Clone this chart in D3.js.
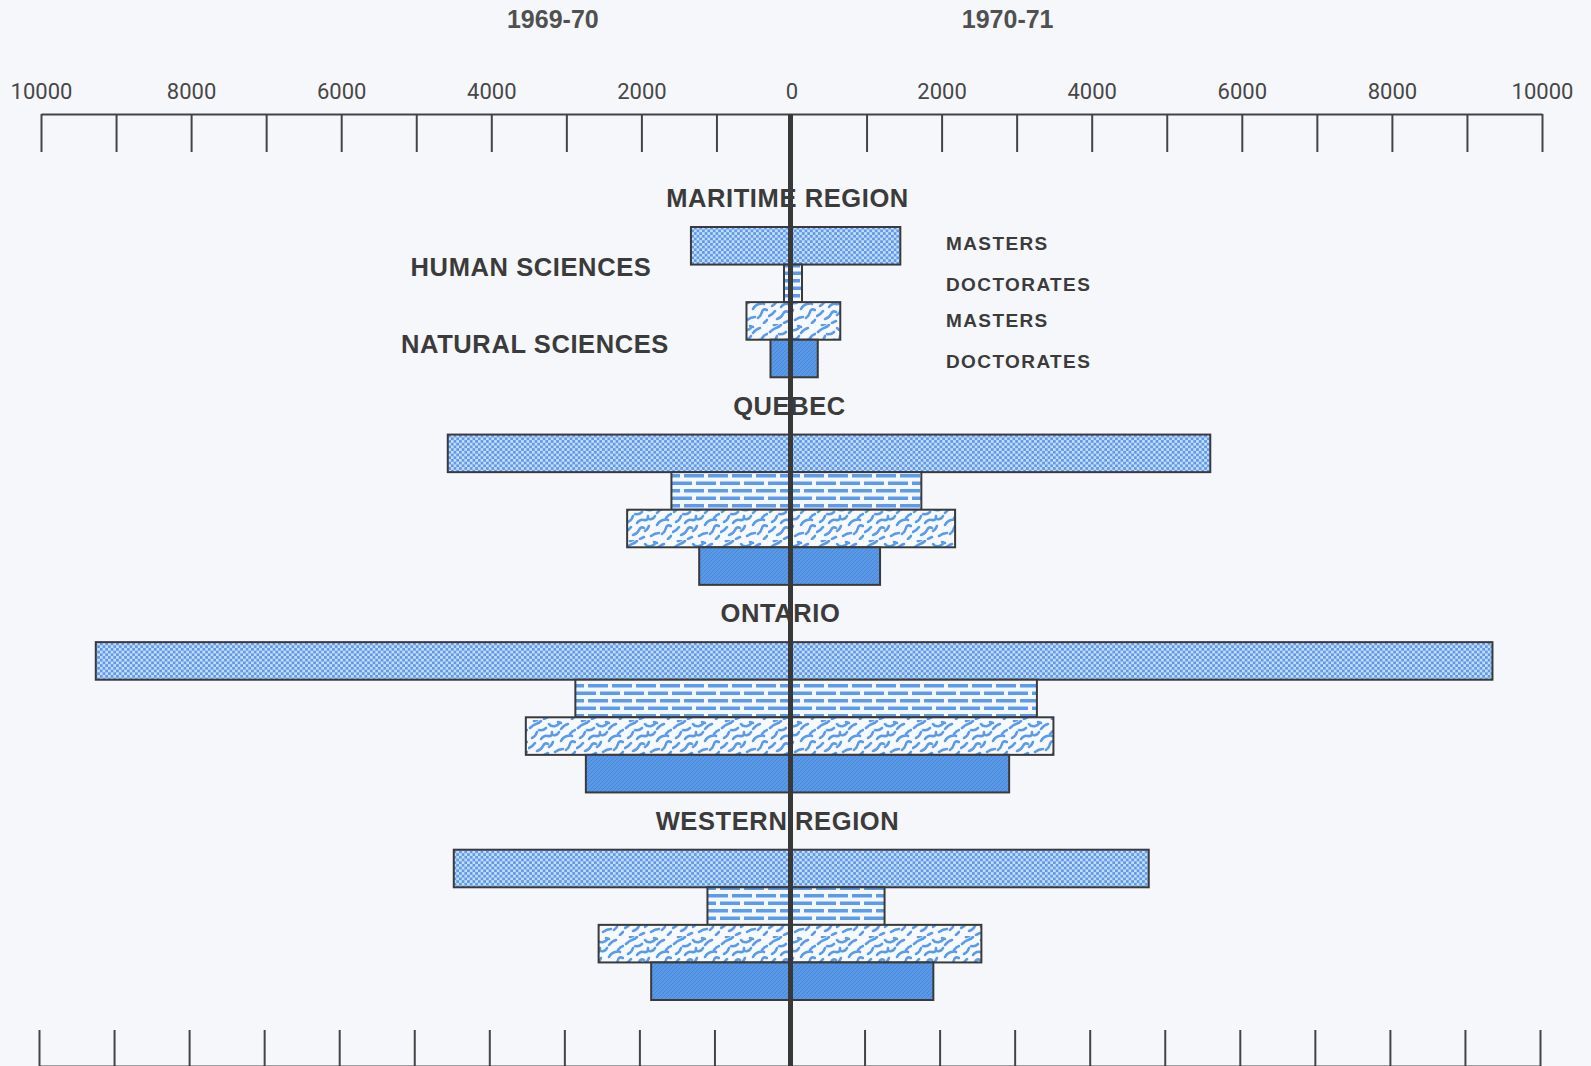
<html>
<head>
<script src="https://d3js.org/d3.v7.min.js"></script>
<style>
    body { margin: 0; background: #f5f7fa; }
    svg text { font-family: "Liberation Sans", Arial, sans-serif; fill: #3b3b3b; }
    .ticklab text { font-family: Roboto, sans-serif; font-size: 22px; fill: #474747; }
</style>
</head>
<body>
<div id="chart"></div>
<script>
// enrolment by region, 1969-70 (left) and 1970-71 (right)
var regions = ["MARITIME REGION", "QUEBEC", "ONTARIO", "WESTERN REGION"];
var series = ["humanMasters", "humanDoctorates", "naturalMasters", "naturalDoctorates"];
var years = ["1969-70", "1970-71"];
var tickLabels = [-10000, -8000, -6000, -4000, -2000, 0, 2000, 4000, 6000, 8000, 10000];

var humanMasters6970 = [1340, 4580, 9270, 4500];
var humanMasters7071 = [1450, 5580, 9340, 4760];
var humanDoctorates6970 = [100, 1600, 2880, 1120];
var humanDoctorates7071 = [140, 1730, 3270, 1240];
var naturalMasters6970 = [600, 2190, 3540, 2570];
var naturalMasters7071 = [650, 2180, 3490, 2530];
var naturalDoctorates6970 = [280, 1230, 2740, 1870];
var naturalDoctorates7071 = [350, 1180, 2900, 1890];

var left = [humanMasters6970, humanDoctorates6970, naturalMasters6970, naturalDoctorates6970];
var right = [humanMasters7071, humanDoctorates7071, naturalMasters7071, naturalDoctorates7071];

var width = 1591, height = 1066;
var blue = "#5b9be9";

var svg = d3.select("#chart").append("svg")
    .attr("width", width)
    .attr("height", height);

svg.append("rect").attr("width", width).attr("height", height).attr("fill", "#f5f7fa");

// patterns
var defs = svg.append("defs");

var p1 = defs.append("pattern").attr("id", "checker")
    .attr("width", 5.4).attr("height", 5.4).attr("patternUnits", "userSpaceOnUse");
p1.append("rect").attr("width", 5.4).attr("height", 5.4).attr("fill", "#5d9aec");
p1.append("rect").attr("width", 2.7).attr("height", 2.7).attr("fill", "#c6dcf8");
p1.append("rect").attr("x", 2.7).attr("y", 2.7).attr("width", 2.7).attr("height", 2.7).attr("fill", "#c6dcf8");

var p2 = defs.append("pattern").attr("id", "dashes")
    .attr("width", 24).attr("height", 15).attr("patternUnits", "userSpaceOnUse");
p2.append("rect").attr("width", 24).attr("height", 15).attr("fill", "#f4f8fd");
p2.append("rect").attr("x", 0).attr("y", 1.5).attr("width", 20).attr("height", 3.5).attr("fill", blue);
p2.append("rect").attr("x", 12).attr("y", 9).attr("width", 12).attr("height", 3.5).attr("fill", blue);
p2.append("rect").attr("x", 0).attr("y", 9).attr("width", 8).attr("height", 3.5).attr("fill", blue);

var p3 = defs.append("pattern").attr("id", "worms")
    .attr("width", 48).attr("height", 36).attr("patternUnits", "userSpaceOnUse");
p3.append("rect").attr("width", 48).attr("height", 36).attr("fill", "#f6f9fd");
var worms = [
    "M2,8 q3,-3 6,-4 t5,-3",
    "M11,10 q4,1 7,-2",
    "M21,4 q2,3 6,2 t4,-3",
    "M33,9 q3,-4 7,-5",
    "M42,14 q2,-3 5,-4",
    "M4,18 q4,-2 5,-6",
    "M13,19 q3,-4 7,-3 t4,-4",
    "M25,15 q4,1 6,-3",
    "M33,21 q2,-4 6,-5 t5,0",
    "M1,28 q4,-2 6,-5",
    "M9,31 q4,-1 6,-5 t5,-2",
    "M21,27 q3,-2 4,-5",
    "M27,32 q4,-3 8,-3",
    "M38,30 q3,-2 4,-6 t5,-2",
    "M16,35 l4,-2",
    "M44,35 l3,-3",
    "M30,2 l3,1",
    "M6,1 l3,-1"
];
p3.selectAll("path").data(worms).enter().append("path")
    .attr("d", function(d) { return d; })
    .attr("fill", "none")
    .attr("stroke", blue)
    .attr("stroke-width", 2.6)
    .attr("stroke-linecap", "round");

var p4 = defs.append("pattern").attr("id", "hatch")
    .attr("width", 4).attr("height", 4).attr("patternUnits", "userSpaceOnUse");
p4.append("rect").attr("width", 4).attr("height", 4).attr("fill", "#5a98e8");
p4.append("path").attr("d", "M0,4 L4,0 M-1,1 L1,-1 M3,5 L5,3")
    .attr("stroke", "#4a86d6").attr("stroke-width", 1);

var fills = ["url(#checker)", "url(#dashes)", "url(#worms)", "url(#hatch)"];

// scales
var x = d3.scaleLinear().domain([-10000, 10000]).range([41, 1542]);

var yRegion = d3.scaleBand().domain(regions).range([227, 1000]).paddingInner(0.276);
var yBar = d3.scaleBand().domain(series).range([0, yRegion.bandwidth()]);

// top axis: ticks below line, labels above
svg.append("g")
    .attr("transform", "translate(0,114)")
    .call(d3.axisBottom(x).tickValues(d3.range(-10000, 10001, 1000))
        .tickSize(38).tickSizeOuter(0).tickFormat(""))
    .call(function(g) {
        g.selectAll("path, line").attr("stroke", "#444").attr("stroke-width", 2);
    });

svg.append("g")
    .attr("class", "ticklab")
    .attr("transform", "translate(0,114)")
    .call(d3.axisTop(x).tickValues(tickLabels).tickSize(0).tickPadding(15)
        .tickFormat(function(d) { return Math.abs(d); }))
    .call(function(g) { g.select(".domain").remove(); });

// bottom axis
svg.append("g")
    .attr("transform", "translate(-2,1066)")
    .call(d3.axisTop(x).tickValues(d3.range(-10000, 10001, 1000))
        .tickSize(36).tickSizeOuter(0).tickFormat(""))
    .call(function(g) {
        g.selectAll("path, line").attr("stroke", "#444").attr("stroke-width", 2);
    });

// year headings
svg.selectAll(".year").data(years).enter().append("text")
    .attr("class", "year")
    .attr("x", function(d, i) { return i === 0 ? x(-3180) : x(2880); })
    .attr("y", 28)
    .attr("text-anchor", "middle")
    .style("font-size", "25px")
    .style("font-weight", "bold")
    .style("fill", "#505050")
    .text(function(d) { return d; });

// bars
var rows = [];
regions.forEach(function(r, ri) {
    series.forEach(function(s, si) {
        rows.push({ region: r, series: s, si: si, a: left[si][ri], b: right[si][ri] });
    });
});

svg.append("g").selectAll("rect").data(rows).enter().append("rect")
    .attr("x", function(d) { return x(-d.a); })
    .attr("y", function(d) { return yRegion(d.region) + yBar(d.series); })
    .attr("width", function(d) { return x(d.b) - x(-d.a); })
    .attr("height", yBar.bandwidth())
    .attr("fill", function(d) { return fills[d.si]; })
    .attr("stroke", "#3a3a3a")
    .attr("stroke-width", 2);

// centre line
svg.append("line")
    .attr("x1", x(0) - 1).attr("x2", x(0) - 1)
    .attr("y1", 114).attr("y2", height)
    .attr("stroke", "#383838")
    .attr("stroke-width", 5);

// region labels
var regionShift = [-4, -2, -11, -14];
svg.selectAll(".region").data(regions).enter().append("text")
    .attr("class", "region")
    .attr("x", function(d, i) { return x(0) + regionShift[i]; })
    .attr("y", function(d) { return yRegion(d) - 20; })
    .attr("text-anchor", "middle")
    .style("font-size", "25.5px")
    .style("font-weight", "bold")
    .style("letter-spacing", "0.6px")
    .text(function(d) { return d; });

// legend labels (first region only)
var r0 = regions[0];
svg.append("text")
    .attr("x", 531)
    .attr("y", yRegion(r0) + yBar("humanDoctorates") + 11)
    .attr("text-anchor", "middle")
    .style("font-size", "25.5px").style("font-weight", "bold").style("letter-spacing", "0.6px")
    .text("HUMAN SCIENCES");
svg.append("text")
    .attr("x", 535)
    .attr("y", yRegion(r0) + yBar("naturalDoctorates") + 13)
    .attr("text-anchor", "middle")
    .style("font-size", "25.5px").style("font-weight", "bold").style("letter-spacing", "0.6px")
    .text("NATURAL SCIENCES");

var kinds = ["MASTERS", "DOCTORATES", "MASTERS", "DOCTORATES"];
svg.selectAll(".kind").data(series).enter().append("text")
    .attr("class", "kind")
    .attr("x", 946)
    .attr("y", function(d, i) { return yRegion(r0) + yBar(d) + yBar.bandwidth() / 2 + 7 + [-3, 1, -1, 3][i]; })
    .style("font-size", "19px")
    .style("font-weight", "bold")
    .style("letter-spacing", "1.4px")
    .text(function(d, i) { return kinds[i]; });
</script>
</body>
</html>
